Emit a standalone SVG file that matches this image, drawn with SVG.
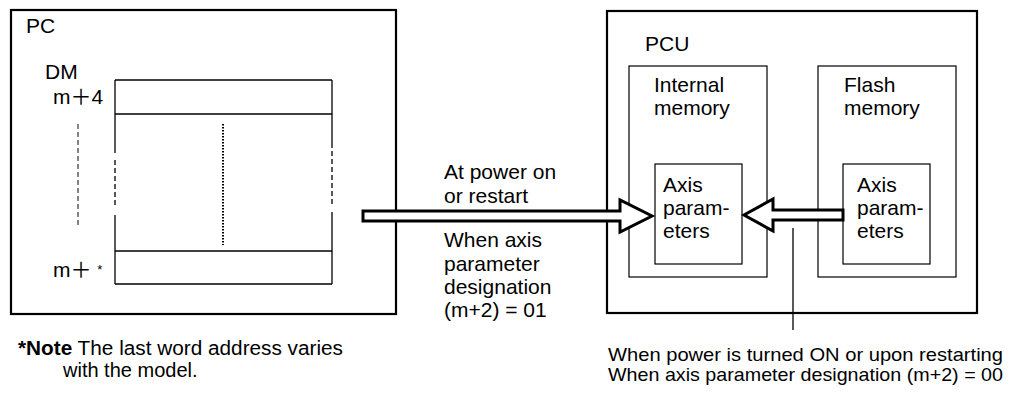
<svg xmlns="http://www.w3.org/2000/svg" width="1022" height="394" viewBox="0 0 1022 394">
<style>
text{font-family:"Liberation Sans",Arial,"Noto Sans CJK JP",sans-serif;font-size:21px;fill:#000}
.small{font-size:19px}
.note{font-size:20px}
.thick{fill:none;stroke:#000;stroke-width:2.2}
.thin{fill:none;stroke:#000;stroke-width:1.2}
.arrow{fill:#fff;stroke:#000;stroke-width:3;stroke-linejoin:miter}
</style>
<rect width="1022" height="394" fill="#fff"/>
<g id="pc">
<rect class="thick" x="11" y="10" width="385" height="304"/>
<text x="26" y="33">PC</text>
<text x="45" y="79">DM</text>
<text x="53" y="104">m＋4</text>
<text x="53" y="277">m＋ <tspan font-size="13" dy="-3">*</tspan></text>
<g id="dm-table" stroke="#000" stroke-width="1.3" fill="none">
<line x1="115" y1="80" x2="332" y2="80"/>
<line x1="115" y1="114" x2="332" y2="114"/>
<line x1="115" y1="251" x2="332" y2="251"/>
<line x1="115" y1="284" x2="332" y2="284"/>
<line x1="115" y1="80" x2="115" y2="153"/>
<line x1="115" y1="160" x2="115" y2="208" stroke-dasharray="5,3"/>
<line x1="115" y1="215" x2="115" y2="284"/>
<line x1="332" y1="80" x2="332" y2="148"/>
<line x1="332" y1="151" x2="332" y2="207" stroke-dasharray="5,3"/>
<line x1="332" y1="212" x2="332" y2="284"/>
<line x1="78" y1="124" x2="78" y2="226" stroke="#444" stroke-dasharray="5,3"/>
<line x1="223" y1="124" x2="223" y2="245" stroke-width="2" stroke-dasharray="1.5,1.5"/>
</g>
</g>
<g id="pcu">
<rect class="thick" x="607" y="11" width="370" height="302"/>
<text x="645" y="51">PCU</text>
</g>
<g id="internal-memory">
<rect class="thin" x="629" y="66" width="138" height="211"/>
<text x="654" y="92">Internal</text>
<text x="654" y="115">memory</text>
</g>
<g id="flash-memory">
<rect class="thin" x="818" y="66" width="138" height="211"/>
<text x="844" y="92">Flash</text>
<text x="844" y="115">memory</text>
</g>
<g id="internal-axis">
<rect class="thin" x="655" y="164" width="87" height="100"/>
<text x="663" y="192">Axis</text>
<text x="663" y="215">param-</text>
<text x="663" y="238">eters</text>
</g>
<g id="flash-axis">
<rect class="thin" x="843" y="164" width="87" height="100"/>
<text x="857" y="192">Axis</text>
<text x="857" y="215">param-</text>
<text x="857" y="238">eters</text>
</g>
<g id="connectors">
<polygon class="arrow" points="363,211 620,211 620,200 652,216 620,232 620,221 363,221"/>
<polygon class="arrow" points="843,210 773,210 773,199 744,215 773,231 773,220 843,220"/>
<line x1="793" y1="228" x2="793" y2="330" stroke="#000" stroke-width="1.3"/>
</g>
<g id="labels">
<text x="444" y="179">At power on</text>
<text x="444" y="202.5">or restart</text>
<text x="444" y="247">When axis</text>
<text x="444" y="270.5">parameter</text>
<text x="444" y="294">designation</text>
<text x="444" y="317">(m+2) = 01</text>
<text class="small" x="608" y="361" textLength="395" lengthAdjust="spacingAndGlyphs">When power is turned ON or upon restarting</text>
<text class="small" x="608" y="381" textLength="395" lengthAdjust="spacingAndGlyphs">When axis parameter designation (m+2) = 00</text>
<text class="note" x="18" y="355" textLength="325" lengthAdjust="spacingAndGlyphs"><tspan font-weight="bold">*Note</tspan> The last word address varies</text>
<text class="note" x="63" y="377">with the model.</text>
</g>
</svg>
